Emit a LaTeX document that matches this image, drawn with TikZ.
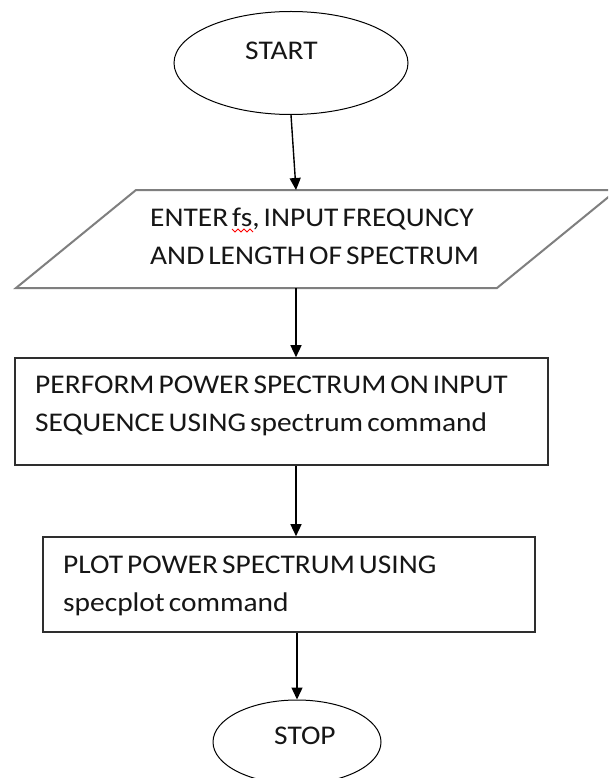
\documentclass[tikz,border=0pt]{standalone}
\usepackage{fontspec}
\setmainfont{Carlito}[FakeStretch=1.09, WordSpace=0.6]
\usetikzlibrary{shapes.geometric,arrows.meta}
\definecolor{ink}{HTML}{161616}
\definecolor{frame}{HTML}{2E2E2E}
\definecolor{ioframe}{HTML}{7F7F7F}
\begin{document}
\begin{tikzpicture}[x=1pt,y=-1pt,
  txt/.style={font=\fontsize{27}{32}\selectfont, text=ink, inner sep=0pt, anchor=base west},
  terminal/.style={ellipse, draw=black, line width=1pt, inner sep=0pt},
  procbox/.style={rectangle, draw=frame, line width=1.6pt, inner sep=0pt},
  flow/.style={draw=black, line width=1.4pt, -{Triangle[length=12pt,width=11pt]}}]
\useasboundingbox (0,0) rectangle (608,778);
\clip (0,0) rectangle (608,778);
\fill[white] (0,0) rectangle (608,778);

% start terminal
\node[terminal, minimum width=234pt, minimum height=103pt] (start) at (291,63) {};
\node[txt] (starttxt) at (245,60) {START};

% input parallelogram
\draw[ioframe, line width=2pt, line join=miter] (16,288) -- (497,288) -- (617,190) -- (136,190) -- cycle;
\coordinate (inTop) at (296,190);
\coordinate (inBot) at (296,288);
\node[txt] (in1) at (150,226) {ENTER fs, INPUT FREQUNCY};
\node[txt] (in2) at (150,264) {AND LENGTH OF SPECTRUM};
% spell-check squiggle under "fs"
\draw[red, line width=0.8pt] (232,229) -- (235,232) -- (238,229) -- (241,232) -- (244,229) -- (247,232) -- (250,229) -- (253,232);

% process boxes
\node[procbox, minimum width=533pt, minimum height=107pt] (proc1) at (281.5,411.5) {};
\node[txt] (p1a) at (35,393) {PERFORM POWER SPECTRUM ON INPUT};
\node[txt] (p1b) at (35,431) {SEQUENCE USING spectrum command};

\node[procbox, minimum width=492pt, minimum height=95pt] (proc2) at (289,584.5) {};
\node[txt] (p2a) at (63,573) {PLOT POWER SPECTRUM USING};
\node[txt] (p2b) at (63,611) {specplot command};

% stop terminal
\node[terminal, minimum width=168pt, minimum height=84pt] (stop) at (297,742) {};
\node[txt] (stoptxt) at (274,744) {STOP};

% connectors
\draw[flow] (start.south) -- (inTop);
\draw[flow] (inBot) -- (inBot |- proc1.north);
\draw[flow] (inBot |- proc1.south) -- (inBot |- proc2.north);
\draw[flow] (stop.north |- proc2.south) -- (stop.north);
\end{tikzpicture}
\end{document}
